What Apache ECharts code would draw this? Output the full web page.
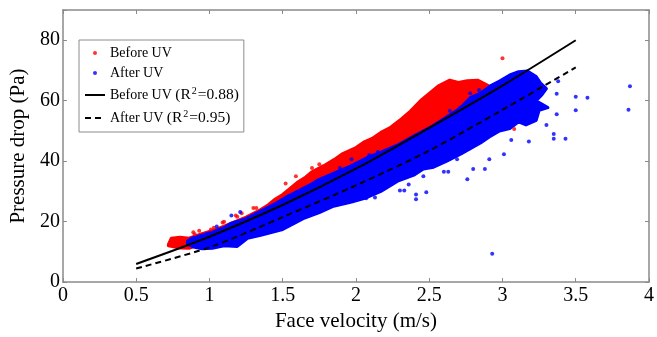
<!DOCTYPE html>
<html>
<head>
<meta charset="utf-8">
<script src="https://cdn.jsdelivr.net/npm/echarts@6/dist/echarts.min.js"></script>
<style>
html, body { margin: 0; padding: 0; background: #fff; }
#main { width: 657px; height: 337px; }
</style>
</head>
<body>
<div id="main"></div>
<script>
var xTickLabels = ['0', '0.5', '1', '1.5', '2', '2.5', '3', '3.5', '4'];
var yTickLabels = ['0', '20', '40', '60', '80'];

// dense red cloud (before UV): upper edge, then lower edge, left to right
var beforeTop = [[0.72,12.5],[0.74,14.5],[0.80,14.8],[0.86,14.5],[0.95,16.0],[1.05,17.5],[1.15,19.5],[1.25,21.5],
  [1.35,24.0],[1.40,25.5],[1.45,27.5],[1.50,29.0],
  [1.55,31.0],[1.60,33.0],[1.65,34.5],[1.70,36.5],[1.78,38.5],[1.85,40.5],[1.91,42.5],[2.00,44.5],[2.06,46.5],
  [2.11,47.5],[2.17,49.5],[2.23,51.0],[2.31,54.0],[2.37,56.5],[2.44,60.0],[2.50,62.4],[2.56,64.8],[2.64,66.8],
  [2.70,66.0],[2.76,66.6],[2.83,66.8],[2.91,64.8],[2.95,63.0]];
var beforeBottom = [[0.72,12.0],[0.80,11.3],[0.86,11.2],[1.00,13.5],[1.50,22.0],[2.00,33.0],[2.50,46.0],[2.95,60.0]];

// dense blue cloud (after UV)
var afterTop = [[0.85,13.5],[0.88,14.5],[0.95,15.5],[1.03,16.8],[1.10,18.0],[1.15,19.5],[1.25,21.0],[1.35,23.5],
  [1.45,26.0],[1.52,28.0],[1.60,30.0],[1.70,32.5],[1.75,34.0],[1.85,36.0],[1.97,38.5],[2.09,41.5],[2.17,43.0],
  [2.29,45.5],[2.40,48.5],[2.50,51.0],[2.60,54.0],[2.71,57.5],[2.78,61.0],[2.85,62.5],[2.92,65.0],[2.98,66.5],
  [3.05,68.5],[3.11,69.6],[3.17,69.8],[3.23,68.0],[3.26,65.8],[3.30,64.0],[3.27,62.0],[3.23,60.0],[3.31,57.7],
  [3.25,56.8],[3.23,53.5]];
var afterBottom = [[0.85,12.5],[0.90,11.5],[0.95,11.0],[1.02,11.2],[1.10,12.0],[1.19,11.8],[1.26,14.5],[1.35,15.5],
  [1.50,17.4],[1.64,21.0],[1.75,23.0],[1.84,25.0],[1.97,26.5],[2.06,27.7],[2.17,30.0],[2.29,33.5],[2.40,35.5],
  [2.46,37.4],[2.53,38.0],[2.62,40.0],[2.72,42.5],[2.85,46.0],[2.91,48.0],[2.98,50.0],[3.05,50.8],[3.11,53.0],
  [3.16,52.0],[3.23,53.5]];

// loose points outside the dense clouds
var beforeDots = [[3.00,74.0],[3.08,50.6],[1.59,35.0],[1.52,32.6],[1.70,37.7],[0.89,16.5],[1.03,18.0],[1.10,20.0],
  [1.18,22.0],[1.32,24.5],[1.75,39.0],[2.24,50.6],[0.90,15.8],[1.01,17.4],[1.09,19.7],[1.19,21.6],[1.30,24.5],
  [0.93,17.0],[1.22,22.8]];
var afterDots = [[2.07,27.7],[2.13,28.0],[2.30,30.3],[2.33,30.3],[2.36,32.3],[2.41,29.0],[2.41,27.4],[2.48,29.7],
  [2.46,35.0],[2.60,36.5],[2.63,36.5],[2.69,40.6],[2.76,34.0],[2.80,37.4],[2.88,37.4],[2.91,40.6],[3.01,42.3],
  [3.06,47.0],[3.18,46.5],[3.30,52.0],[3.35,49.0],[3.35,47.4],[3.43,47.4],[3.37,55.5],[3.37,62.3],[3.38,66.4],
  [3.50,61.3],[3.50,56.8],[3.58,61.0],[3.86,57.0],[3.87,64.8],[2.93,9.4],[1.15,22.0],[1.21,23.2],[1.05,18.4],
  [2.78,62.5],[2.84,63.5],[2.71,57.7],[2.64,56.7],[1.89,37.7],[1.97,40.6],[2.09,42.0],[2.15,43.0]];

// fitted curves
var beforeFit = [[0.5,6.0],[1.0,15.0],[1.5,25.5],[2.0,37.5],[2.5,51.0],[3.0,65.0],[3.5,80.0]];
var afterFit = [[0.5,4.5],[1.0,11.5],[1.5,21.5],[2.0,32.0],[2.5,43.5],[3.0,57.0],[3.5,71.0]];

var serif = 'Liberation Serif';
var axisGray = '#8a8a8a';

function cloud(top, bottom, color) {
    var outline = top.concat(bottom.slice().reverse());
    return {
        type: 'custom',
        silent: true,
        data: outline,
        encode: { x: 0, y: 1 },
        renderItem: function (params, api) {
            if (params.dataIndex !== 0) return null;
            var pts = outline.map(function (p) { return api.coord(p); });
            return {
                type: 'polygon',
                shape: { points: pts },
                style: { fill: color, stroke: color, lineWidth: 3, lineJoin: 'round' }
            };
        }
    };
}

function valueAxis(pos, show) {
    return {
        type: 'value',
        position: pos,
        axisLine: { show: true, onZero: false, lineStyle: { color: axisGray, width: 1.5 } },
        axisTick: { show: true, inside: true, length: 4, lineStyle: { color: axisGray } },
        splitLine: { show: false },
        axisLabel: { show: show }
    };
}

var chart = echarts.init(document.getElementById('main'));

var xBottom = valueAxis('bottom', true);
xBottom.min = 0; xBottom.max = 4; xBottom.interval = 0.5;
xBottom.name = 'Face velocity (m/s)';
xBottom.nameLocation = 'middle';
xBottom.nameGap = 25;
xBottom.nameTextStyle = { fontFamily: serif, fontSize: 21, color: '#000' };
xBottom.axisLabel = { fontFamily: serif, fontSize: 20, color: '#000', margin: 4,
    formatter: function (v) { return xTickLabels[Math.round(v / 0.5)]; } };

var xTop = valueAxis('top', false);
xTop.min = 0; xTop.max = 4; xTop.interval = 0.5;

var yLeft = valueAxis('left', true);
yLeft.min = 0; yLeft.max = 90; yLeft.interval = 20;
yLeft.name = 'Pressure drop (Pa)';
yLeft.nameLocation = 'middle';
yLeft.nameGap = 28;
yLeft.nameTextStyle = { fontFamily: serif, fontSize: 21, color: '#000' };
yLeft.axisLabel = { fontFamily: serif, fontSize: 20, color: '#000', margin: 3,
    formatter: function (v) { var i = v / 20; return i === Math.round(i) && yTickLabels[i] ? yTickLabels[i] : ''; } };

var yRight = valueAxis('right', false);
yRight.min = 0; yRight.max = 90; yRight.interval = 20;

var option = {
    animation: false,
    grid: { left: 56, right: 4, top: 10, bottom: 48 },
    xAxis: [xBottom, xTop],
    yAxis: [yLeft, yRight],
    legend: {
        orient: 'vertical',
        left: 79,
        top: 40,
        padding: [6, 5, 6, 5],
        itemGap: 6,
        itemWidth: 20,
        itemHeight: 4,
        backgroundColor: '#fff',
        borderColor: '#8c8c8c',
        borderWidth: 1,
        selectedMode: false,
        data: [
            'Before UV',
            'After UV',
            { name: 'Before UV (R2=0.88)', itemStyle: { opacity: 0 } },
            { name: 'After UV (R2=0.95)', itemStyle: { opacity: 0 } }
        ],
        formatter: function (name) {
            var m = name.match(/^(.*)\(R2=(.*)\)$/);
            if (!m) return '{t|' + name + '}';
            return '{t|' + m[1] + '}{p|(R}{s|2}{p|=' + m[2] + ')}';
        },
        textStyle: {
            fontFamily: serif,
            fontSize: 14,
            color: '#000',
            rich: {
                t: { fontFamily: serif, fontSize: 14, color: '#000', lineHeight: 18 },
                p: { fontFamily: serif, fontSize: 15.5, color: '#000', lineHeight: 18 },
                s: { fontFamily: serif, fontSize: 10, color: '#000', verticalAlign: 'top', lineHeight: 12, padding: [0, 1, 0, 1] }
            }
        }
    },
    series: [
        cloud(beforeTop, beforeBottom, '#ff0000'),
        {
            name: 'Before UV',
            type: 'scatter',
            symbol: 'circle',
            symbolSize: 4,
            itemStyle: { color: '#ff0000' },
            data: beforeDots
        },
        cloud(afterTop, afterBottom, '#0000ff'),
        {
            name: 'After UV',
            type: 'scatter',
            symbol: 'circle',
            symbolSize: 4,
            itemStyle: { color: '#0000ff' },
            data: afterDots
        },
        {
            name: 'Before UV (R2=0.88)',
            type: 'line',
            smooth: 0.3,
            symbol: 'none',
            lineStyle: { color: '#000', width: 2 },
            itemStyle: { color: '#000' },
            data: beforeFit
        },
        {
            name: 'After UV (R2=0.95)',
            type: 'line',
            smooth: 0.3,
            symbol: 'none',
            lineStyle: { color: '#000', width: 2, type: [6, 4] },
            itemStyle: { color: '#000' },
            data: afterFit
        }
    ]
};

chart.setOption(option);
</script>
</body>
</html>
